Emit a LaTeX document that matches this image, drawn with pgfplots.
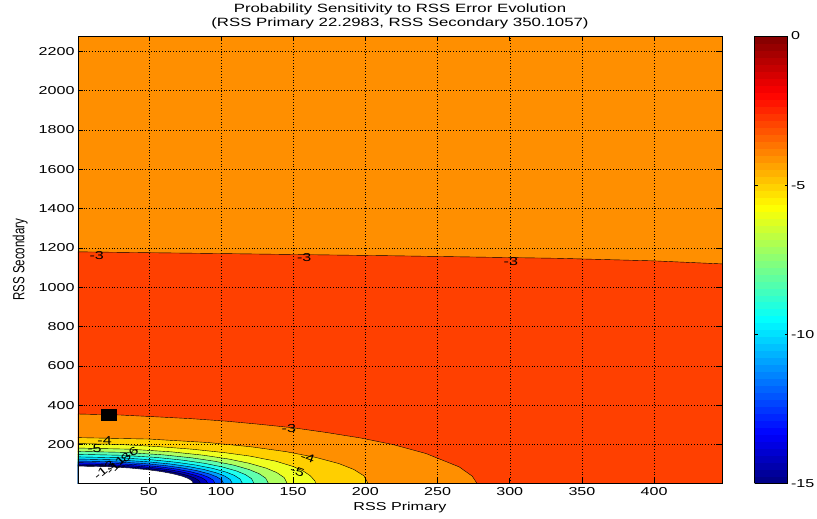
\documentclass[border=0pt]{standalone}
\usepackage{pgfplots}
\pgfplotsset{compat=1.18}
\usepackage{fontspec}
\setmainfont{Liberation Sans}
\newfontfamily\tickfont[FakeStretch=1.4]{Liberation Sans}
\newcommand{\tf}{\tickfont\fontsize{11.5}{12}\selectfont}
\definecolor{c3}{RGB}{255,64,0}
\definecolor{c4}{RGB}{255,143,0}
\definecolor{c5}{RGB}{255,207,0}
\definecolor{c6}{RGB}{239,255,32}
\definecolor{c7}{RGB}{175,255,96}
\definecolor{c8}{RGB}{96,255,175}
\definecolor{c9}{RGB}{32,255,239}
\definecolor{c10}{RGB}{0,223,255}
\definecolor{c11}{RGB}{0,159,255}
\definecolor{c12}{RGB}{0,80,255}
\definecolor{c13}{RGB}{0,16,255}
\definecolor{c14}{RGB}{0,0,191}
\definecolor{c15}{RGB}{0,0,128}
\pgfplotsset{colormap={mjet}{rgb255(0)=(0,0,128) rgb255(7)=(0,0,255) rgb255(23)=(0,255,255) rgb255(39)=(255,255,0) rgb255(55)=(255,0,0) rgb255(63)=(128,0,0)}}
\begin{document}
\begin{tikzpicture}
\begin{axis}[
  name=ax,
  scale only axis, width=644pt, height=447.5pt,
  xmin=1, xmax=447, ymin=1.5, ymax=2278,
  xtick={50,100,...,400}, ytick={200,400,...,2200},
  grid=major, major grid style={black, line width=0.45pt, dash pattern=on 0.6pt off 2.2pt},
  axis on top,
  axis background/.style={fill=c4},
  tick align=inside, major tick length=5pt,
  every tick/.style={black, line width=0.5pt},
  axis line style={black, line width=0.5pt},
  tick label style={font=\tf},
  /pgf/number format/assume math mode=true,
  /pgf/number format/1000 sep={},
  xlabel={RSS Primary}, ylabel={\scalebox{1}[1.4]{RSS Secondary}},
  xlabel style={font=\tf},
  ylabel style={font=\fontsize{11.5}{12}\selectfont, yshift=4pt},
  title={Probability Sensitivity to RSS Error Evolution\\(RSS Primary 22.2983, RSS Secondary 350.1057)},
  title style={align=center, font=\tickfont\fontsize{12}{14.5}\selectfont, yshift=-3pt},
  colormap name=mjet, point meta min=-15, point meta max=0,
  colorbar sampled,
  colorbar style={samples=65, width=33pt, at={(parent axis.north east)}, anchor=north west, xshift=24pt,
    ytick={-15,-10,-5,0}, yticklabels={-15,-10,-5,0},
    yticklabel style={font=\tf},
    ytick pos=both, yticklabel pos=right,
    tick align=inside, major tick length=3pt,
    every tick/.style={black, line width=0.5pt},
    axis line style={black, line width=0.5pt}},
]
% region above/below upper -3 contour
\addplot[fill=c3, draw=black, line width=0.4pt] coordinates {(-5,-5) (-5,1180) (1,1180) (92,1172) (219,1160) (334,1147) (400,1134) (452,1117) (452,-5)} --cycle;
% lower -3 contour
\addplot[fill=c4, draw=black, line width=0.4pt] coordinates {(-5,-5) (-5,355) (1,355) (30,350) (57,340) (80,331) (103,319) (125,304) (150,285) (173,261) (196,234) (219,200) (242,154) (265,86) (274,39) (277.5,0) (277.5,-5)} --cycle;
% -4
\addplot[fill=c5, draw=black, line width=0.4pt] coordinates {(-5,-5) (-5,235) (0,235) (50.5,227.5) (90.9,209.9) (121.2,188) (145.4,163.1) (165.6,134.4) (181.8,102.5) (191.9,73.3) (199,40.7) (202,0) (202,-5)} --cycle;
% -5
\addplot[fill=c6, draw=black, line width=0.4pt] coordinates {(-5,-5) (-5,205) (0,205) (30,200) (57,189) (80,176) (103,158) (120,141) (138,115) (150,88) (157,65) (162,40) (165,15) (166,0) (166,-5)} --cycle;
% -6
\addplot[fill=c7, draw=black, line width=0.4pt] coordinates {(-5,-5) (-5,182) (0,182) (36.5,176.2) (65.7,162.5) (87.6,145.6) (105.1,126.3) (119.7,104.1) (131.4,79.4) (138.7,56.8) (143.8,31.5) (146,0) (146,-5)} --cycle;
% -7
\addplot[fill=c8, draw=black, line width=0.4pt] coordinates {(-5,-5) (-5,165) (0,165) (33.3,159.7) (59.9,147.3) (79.8,132) (95.8,114.5) (109.1,94.4) (119.7,71.9) (126.4,51.5) (131,28.5) (133,0) (133,-5)} --cycle;
% -8
\addplot[fill=c9, draw=black, line width=0.4pt] coordinates {(-5,-5) (-5,150) (0,150) (30.8,145.2) (55.4,134) (73.8,120) (88.6,104.1) (100.9,85.8) (110.7,65.4) (116.9,46.8) (121.2,26) (123,0) (123,-5)} --cycle;
% -9
\addplot[fill=c10, draw=black, line width=0.4pt] coordinates {(-5,-5) (-5,137) (0,137) (28.8,132.6) (51.8,122.3) (69,109.6) (82.8,95.1) (94.3,78.4) (103.5,59.7) (109.3,42.7) (113.3,23.7) (115,0) (115,-5)} --cycle;
% -10
\addplot[fill=c11, draw=black, line width=0.4pt] coordinates {(-5,-5) (-5,126) (0,126) (27,122) (48.6,112.5) (64.8,100.8) (77.8,87.4) (88.6,72.1) (97.2,54.9) (102.6,39.3) (106.4,21.8) (108,0) (108,-5)} --cycle;
% -11
\addplot[fill=c12, draw=black, line width=0.4pt] coordinates {(-5,-5) (-5,116) (0,116) (25.5,112.3) (45.9,103.6) (61.2,92.8) (73.4,80.5) (83.6,66.4) (91.8,50.6) (96.9,36.2) (100.5,20.1) (102,0) (102,-5)} --cycle;
% -12
\addplot[fill=c13, draw=black, line width=0.4pt] coordinates {(-5,-5) (-5,108) (0,108) (24,104.5) (43.2,96.4) (57.6,86.4) (69.1,75) (78.7,61.8) (86.4,47.1) (91.2,33.7) (94.6,18.7) (96,0) (96,-5)} --cycle;
% -13
\addplot[fill=c14, draw=black, line width=0.4pt] coordinates {(-5,-5) (-5,101) (0,101) (22.8,97.8) (41,90.2) (54.6,80.8) (65.5,70.1) (74.6,57.8) (81.9,44) (86.5,31.5) (89.6,17.5) (91,0) (91,-5)} --cycle;
% -14
\addplot[fill=c15, draw=black, line width=0.4pt] coordinates {(-5,-5) (-5,95) (0,95) (21.5,92) (38.7,84.8) (51.6,76) (61.9,65.9) (70.5,54.3) (77.4,41.4) (81.7,29.6) (84.7,16.4) (86,0) (86,-5)} --cycle;
% -15
\addplot[fill=white, draw=black, line width=0.4pt] coordinates {(-5,-5) (-5,90) (0,90) (20.3,87.1) (36.5,80.4) (48.6,72) (58.3,62.5) (66.4,51.5) (72.9,39.2) (77,28.1) (79.8,15.6) (81,0) (81,-5)} --cycle;
% current point
\addplot[only marks, mark=square*, mark size=5.5pt, mark options={xscale=1.43, fill=black, draw=black}] coordinates {(22.2983,350.1057)};
% contour labels
\node[font=\tf] at (axis cs:14,1163) {-3};
\node[font=\tf] at (axis cs:157.7,1153) {-3};
\node[font=\tf] at (axis cs:300.8,1133) {-3};
\node[font=\tf] at (axis cs:147,281) {-3};
\node[font=\tf] at (axis cs:19.4,222) {-4};
\node[font=\tf] at (axis cs:12.4,181) {-5};
\node[font=\tf, rotate=-20] at (axis cs:160,132) {-4};
\node[font=\tf, rotate=-20] at (axis cs:153,62) {-5};
\node[font=\tf, inner sep=0pt, rotate=35] at (axis cs:38,154) {-6};
\node[font=\tf, inner sep=0pt, rotate=45] at (axis cs:33,122) {-8};
\node[font=\tf, inner sep=0pt, rotate=45] at (axis cs:27,94) {-11};
\node[font=\tf, inner sep=0pt, rotate=40] at (axis cs:19,68) {-13};
\end{axis}
\pgfresetboundingbox
\path (ax.south west) ++(-78pt,-35.5pt) rectangle ++(817pt,519pt);
\end{tikzpicture}
\end{document}
